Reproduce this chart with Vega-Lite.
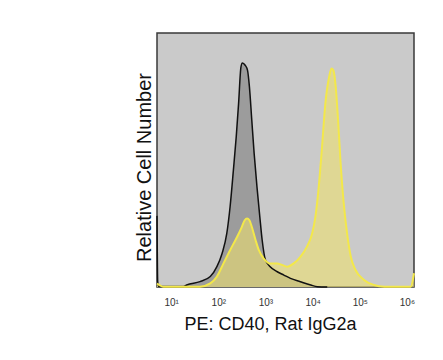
{
  "$schema": "https://vega.github.io/schema/vega-lite/v6.json",
  "autosize": "none",
  "width": 257,
  "height": 254,
  "padding": {"left": 157, "top": 33, "right": 29, "bottom": 73},
  "background": "white",
  "config": {
    "view": {"fill": "#cacaca", "stroke": "#3a3a3a", "strokeWidth": 1.5},
    "font": "Liberation Sans"
  },
  "datasets": {
    "isotype": [
      {"logFL": 0.70, "count": 28},
      {"logFL": 0.715, "count": 2},
      {"logFL": 0.74, "count": 0.2},
      {"logFL": 1.26, "count": 0.2},
      {"logFL": 1.33, "count": 0.8},
      {"logFL": 1.61, "count": 2.1},
      {"logFL": 1.83, "count": 4.1},
      {"logFL": 1.97, "count": 8.0},
      {"logFL": 2.08, "count": 13.2},
      {"logFL": 2.18, "count": 21.1},
      {"logFL": 2.25, "count": 31.6},
      {"logFL": 2.32, "count": 46},
      {"logFL": 2.38, "count": 59.1},
      {"logFL": 2.43, "count": 72.2},
      {"logFL": 2.48, "count": 86.6},
      {"logFL": 2.51, "count": 88.2},
      {"logFL": 2.57, "count": 87.3},
      {"logFL": 2.62, "count": 85.3},
      {"logFL": 2.66, "count": 78.8},
      {"logFL": 2.71, "count": 65.7},
      {"logFL": 2.76, "count": 52.6},
      {"logFL": 2.82, "count": 39.4},
      {"logFL": 2.88, "count": 27.7},
      {"logFL": 2.93, "count": 18.5},
      {"logFL": 3.00, "count": 10.6},
      {"logFL": 3.10, "count": 8.0},
      {"logFL": 3.25, "count": 6.0},
      {"logFL": 3.39, "count": 4.7},
      {"logFL": 3.53, "count": 3.4},
      {"logFL": 3.74, "count": 2.1},
      {"logFL": 3.96, "count": 0.8},
      {"logFL": 4.10, "count": 0.1},
      {"logFL": 4.31, "count": 0}
    ],
    "cd40": [
      {"logFL": 0.70, "count": 1.4},
      {"logFL": 0.84, "count": 0.1},
      {"logFL": 1.61, "count": 0.1},
      {"logFL": 1.83, "count": 1.4},
      {"logFL": 1.97, "count": 4.1},
      {"logFL": 2.11, "count": 9.3},
      {"logFL": 2.25, "count": 14.5},
      {"logFL": 2.40, "count": 19.8},
      {"logFL": 2.50, "count": 23.7},
      {"logFL": 2.56, "count": 26.3},
      {"logFL": 2.61, "count": 27.0},
      {"logFL": 2.66, "count": 26.3},
      {"logFL": 2.71, "count": 23.7},
      {"logFL": 2.79, "count": 18.5},
      {"logFL": 2.86, "count": 14.5},
      {"logFL": 2.96, "count": 11.3},
      {"logFL": 3.10, "count": 9.3},
      {"logFL": 3.25, "count": 9.3},
      {"logFL": 3.35, "count": 8.7},
      {"logFL": 3.46, "count": 8.0},
      {"logFL": 3.60, "count": 9.3},
      {"logFL": 3.74, "count": 11.9},
      {"logFL": 3.88, "count": 15.9},
      {"logFL": 3.99, "count": 21.1},
      {"logFL": 4.06, "count": 27.7},
      {"logFL": 4.13, "count": 39.4},
      {"logFL": 4.20, "count": 55.2},
      {"logFL": 4.27, "count": 72.2},
      {"logFL": 4.35, "count": 82.7},
      {"logFL": 4.40, "count": 86.0},
      {"logFL": 4.44, "count": 85.3},
      {"logFL": 4.49, "count": 78.8},
      {"logFL": 4.54, "count": 65.7},
      {"logFL": 4.59, "count": 49.9},
      {"logFL": 4.66, "count": 32.9},
      {"logFL": 4.74, "count": 19.8},
      {"logFL": 4.81, "count": 11.9},
      {"logFL": 4.91, "count": 6.7},
      {"logFL": 5.09, "count": 2.8},
      {"logFL": 5.30, "count": 0.8},
      {"logFL": 5.52, "count": 0.1},
      {"logFL": 6.08, "count": 0.1},
      {"logFL": 6.15, "count": 5.4}
    ]
  },
  "encoding": {
    "x": {
      "field": "logFL",
      "type": "quantitative",
      "scale": {"domain": [0.7, 6.15], "nice": false, "zero": false},
      "axis": {
        "title": "PE: CD40, Rat IgG2a",
        "titleFontSize": 18,
        "titleFontWeight": "normal",
        "titleColor": "#111",
        "titlePadding": 8,
        "titleX": 113,
        "values": [1, 2, 3, 4, 5, 6],
        "labelExpr": "datum.value == 1 ? '10¹' : datum.value == 2 ? '10²' : datum.value == 3 ? '10³' : datum.value == 4 ? '10⁴' : datum.value == 5 ? '10⁵' : '10⁶'",
        "labelFontSize": 10,
        "labelColor": "#333",
        "labelPadding": 10,
        "ticks": false,
        "domain": false,
        "grid": false
      }
    },
    "y": {
      "field": "count",
      "type": "quantitative",
      "scale": {"domain": [0, 100], "nice": false},
      "axis": {
        "title": "Relative Cell Number",
        "titleFontSize": 20,
        "titleFontWeight": "normal",
        "titleColor": "#111",
        "titlePadding": 3,
        "titleY": 134,
        "labels": false,
        "ticks": false,
        "domain": false,
        "grid": false
      }
    }
  },
  "layer": [
    {
      "data": {"name": "isotype"},
      "mark": {"type": "area", "color": "#9c9c9c", "interpolate": "monotone"}
    },
    {
      "data": {"name": "cd40"},
      "mark": {"type": "area", "color": "#ece070", "opacity": 0.6, "interpolate": "monotone"}
    },
    {
      "data": {"name": "isotype"},
      "mark": {"type": "line", "color": "#111111", "strokeWidth": 1.5, "interpolate": "monotone"}
    },
    {
      "data": {"name": "cd40"},
      "mark": {"type": "line", "color": "#f3e84a", "strokeWidth": 2, "interpolate": "monotone"}
    }
  ]
}
